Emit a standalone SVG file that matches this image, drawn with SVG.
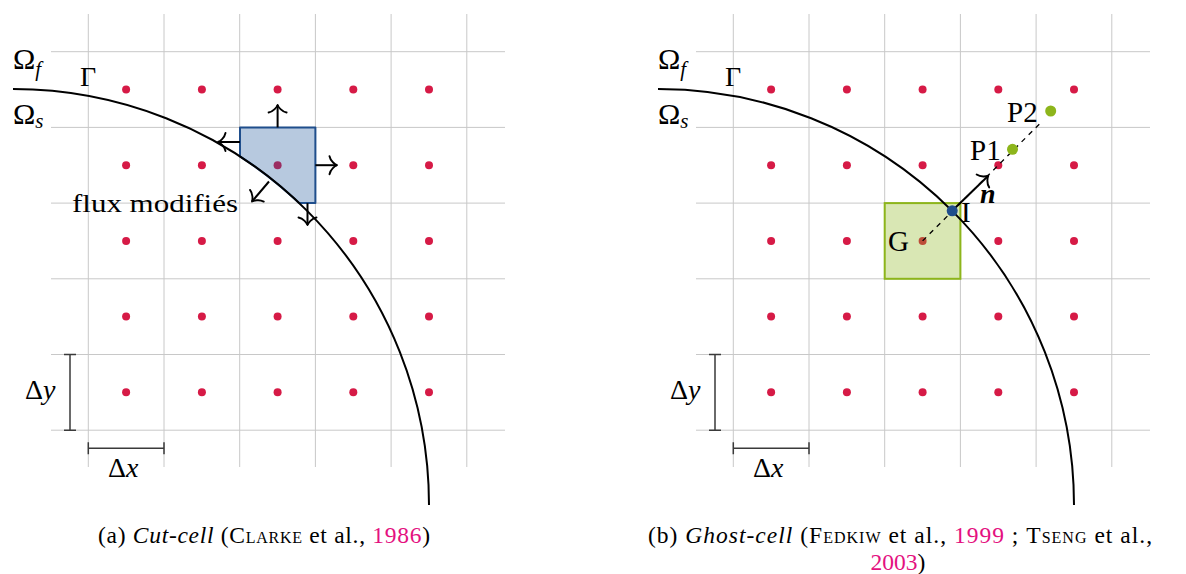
<svg xmlns="http://www.w3.org/2000/svg" width="1186" height="574" viewBox="0 0 1186 574">
<defs>
<style>
.grid{stroke:#c8c8c8;stroke-width:1;fill:none}
.dot{fill:#d61a46}
.curve{fill:none;stroke:#000;stroke-width:2}
.arr{stroke:#000;stroke-width:2;fill:none;marker-end:url(#to)}
.lbl{font-family:"Liberation Serif","Times New Roman",serif;fill:#000}
.dim{stroke:#3a3a3a;stroke-width:1.5;fill:none}
.cite{fill:#e4117f}
</style>
<marker id="to" viewBox="-11 -11 13 22" markerWidth="13" markerHeight="22" refX="0" refY="0" orient="auto" markerUnits="userSpaceOnUse" overflow="visible">
<path d="M-7.5,-9 C-6.5,-4 -2,-0.8 0,0 C-2,0.8 -6.5,4 -7.5,9" fill="none" stroke="#000" stroke-width="1.9" stroke-linecap="round" stroke-linejoin="round"/>
</marker>
<g id="gridcells">
<path class="grid" d="M88.3,14V467M164,14V467M239.7,14V467M315.4,14V467M391.1,14V467M466.8,14V467M51,51.7H505M51,127.4H505M51,203.1H505M51,278.8H505M51,354.5H505M51,430.2H505"/>
</g>
<g id="dots">
<circle class="dot" cx="126.1" cy="89.5" r="4"/><circle class="dot" cx="201.9" cy="89.5" r="4"/><circle class="dot" cx="277.6" cy="89.5" r="4"/><circle class="dot" cx="353.3" cy="89.5" r="4"/><circle class="dot" cx="429" cy="89.5" r="4"/>
<circle class="dot" cx="126.1" cy="165.2" r="4"/><circle class="dot" cx="201.9" cy="165.2" r="4"/><circle class="dot" cx="277.6" cy="165.2" r="4"/><circle class="dot" cx="353.3" cy="165.2" r="4"/><circle class="dot" cx="429" cy="165.2" r="4"/>
<circle class="dot" cx="126.1" cy="240.9" r="4"/><circle class="dot" cx="201.9" cy="240.9" r="4"/><circle class="dot" cx="277.6" cy="240.9" r="4"/><circle class="dot" cx="353.3" cy="240.9" r="4"/><circle class="dot" cx="429" cy="240.9" r="4"/>
<circle class="dot" cx="126.1" cy="316.6" r="4"/><circle class="dot" cx="201.9" cy="316.6" r="4"/><circle class="dot" cx="277.6" cy="316.6" r="4"/><circle class="dot" cx="353.3" cy="316.6" r="4"/><circle class="dot" cx="429" cy="316.6" r="4"/>
<circle class="dot" cx="126.1" cy="392.3" r="4"/><circle class="dot" cx="201.9" cy="392.3" r="4"/><circle class="dot" cx="277.6" cy="392.3" r="4"/><circle class="dot" cx="353.3" cy="392.3" r="4"/><circle class="dot" cx="429" cy="392.3" r="4"/>
</g>
</defs>

<!-- Panel (a) -->
<g id="panel-a">
<use href="#gridcells"/>
<use href="#dots"/>
<g id="cutcell">
<path d="M240,127.4H315.4V203.1H299.2A416,416 0 0 0 240,156.4Z" fill="#1f569d" fill-opacity="0.32" stroke="#1f4e8c" stroke-width="2" stroke-linejoin="round"/>
</g>
<g id="labels-a" class="lbl">
<text x="13" y="68.5" font-size="30">Ω<tspan font-style="italic" font-size="21" dy="7">f</tspan></text>
<text x="80" y="86" font-size="28">Γ</text>
<text x="13" y="123.5" font-size="30">Ω<tspan font-style="italic" font-size="21" dy="4">s</tspan></text>
<text x="72" y="212" font-size="26" textLength="166" lengthAdjust="spacingAndGlyphs">flux modifiés</text>
<text x="25" y="399" font-size="28">Δ<tspan font-style="italic">y</tspan></text>
<text x="108" y="477" font-size="28">Δ<tspan font-style="italic">x</tspan></text>
</g>
</g>

<!-- Panel (b) -->
<g id="panel-b">
<g transform="translate(645,0)">
<use href="#gridcells"/>
<use href="#dots"/>
</g>
<g id="ghostcell">
<rect x="884.7" y="203.1" width="75.7" height="75.7" fill="#8db51b" fill-opacity="0.33" stroke="#8db51b" stroke-width="2"/>
</g>
<g id="labels-b" class="lbl">
<text x="658" y="68.5" font-size="30">Ω<tspan font-style="italic" font-size="21" dy="7">f</tspan></text>
<text x="725" y="86" font-size="28">Γ</text>
<text x="658" y="123.5" font-size="30">Ω<tspan font-style="italic" font-size="21" dy="4">s</tspan></text>
<text x="670" y="399" font-size="28">Δ<tspan font-style="italic">y</tspan></text>
<text x="753" y="477" font-size="28">Δ<tspan font-style="italic">x</tspan></text>
</g>
</g>

<!-- Connectors -->
<g id="connectors">
<path class="curve" d="M13,89A416,416 0 0 1 429,505"/>
<path class="curve" d="M658,89A416,416 0 0 1 1074,505"/>
<line class="arr" x1="277.6" y1="127.4" x2="277.6" y2="105"/>
<line class="arr" x1="240" y1="142" x2="218" y2="142"/>
<line class="arr" x1="315.4" y1="165.2" x2="337" y2="165.2"/>
<line class="arr" x1="269" y1="181.5" x2="252" y2="201.5"/>
<line class="arr" x1="307.5" y1="203.1" x2="307.5" y2="225"/>
<path class="dim" d="M70,354.5V430.2M64,354.5H76M64,430.2H76"/>
<path class="dim" d="M88.3,448.3H164M88.3,442.3V454.3M164,442.3V454.3"/>
<path class="dim" d="M715,354.5V430.2M709,354.5H721M709,430.2H721"/>
<path class="dim" d="M733.3,448.3H809M733.3,442.3V454.3M809,442.3V454.3"/>
<line x1="922.6" y1="240.9" x2="1041" y2="122.5" stroke="#000" stroke-width="1.3" stroke-dasharray="5 5"/>
<line class="arr" x1="952.2" y1="210.8" x2="988.3" y2="175.7"/>
</g>

<!-- Points of the ghost-cell method -->
<g id="point-G"><text class="lbl" x="888" y="251" font-size="29">G</text></g>
<g id="point-I"><circle cx="952.2" cy="210.8" r="5.5" fill="#1f4e8c"/><text class="lbl" x="961" y="222" font-size="29">I</text></g>
<g id="point-P1"><circle cx="1012.5" cy="149.3" r="5.5" fill="#8db51b"/><text class="lbl" x="970" y="160" font-size="29">P1</text></g>
<g id="point-P2"><circle cx="1050.7" cy="111" r="5.5" fill="#8db51b"/><text class="lbl" x="1007" y="122" font-size="29">P2</text></g>
<g id="label-n"><text class="lbl" x="980" y="203" font-size="28" font-style="italic" font-weight="bold">n</text></g>

<!-- Captions -->
<g id="caption-a" class="lbl">
<text x="98" y="543" font-size="23.5" textLength="332" lengthAdjust="spacing">(a) <tspan font-style="italic">Cut-cell</tspan> (<tspan font-variant="small-caps">Clarke</tspan> et al., <tspan class="cite">1986</tspan>)</text>
</g>
<g id="caption-b" class="lbl">
<text x="648" y="543" font-size="23.5" textLength="504" lengthAdjust="spacing">(b) <tspan font-style="italic">Ghost-cell</tspan> (<tspan font-variant="small-caps">Fedkiw</tspan> et al., <tspan class="cite">1999</tspan> ; <tspan font-variant="small-caps">Tseng</tspan> et al.,</text>
<text x="898" y="570" font-size="23.5" text-anchor="middle"><tspan class="cite">2003</tspan>)</text>
</g>
</svg>
